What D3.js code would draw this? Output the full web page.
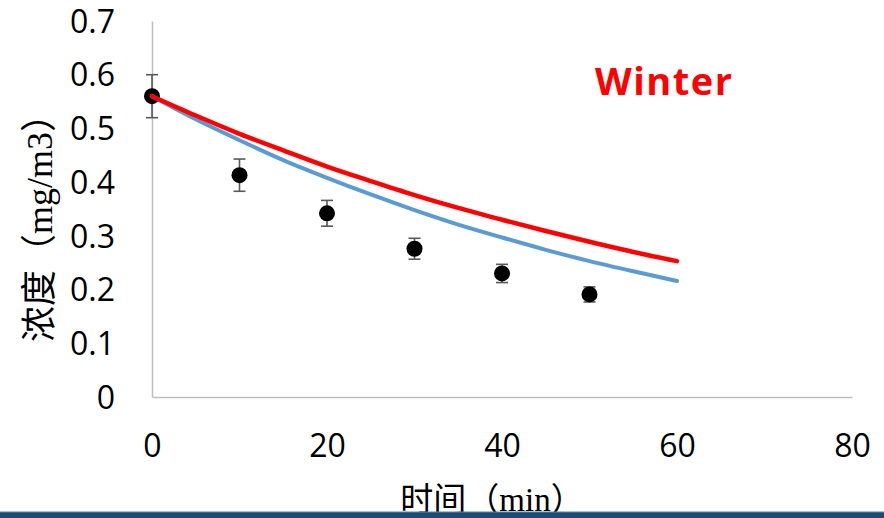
<!DOCTYPE html>
<html>
<head>
<meta charset="utf-8">
<script src="https://cdn.jsdelivr.net/npm/d3@7"></script>
<style>
  html, body { margin: 0; padding: 0; background: #fff; }
  svg { display: block; }
</style>
</head>
<body>
<svg id="chart" width="884" height="518"></svg>
<script>
// Measured concentrations (mean ± error) over time
const sampleTimes = [0, 10, 20, 30, 40, 50];
const sampleMeans = [0.56, 0.413, 0.342, 0.276, 0.230, 0.191];
const sampleErrors = [0.04, 0.03, 0.024, 0.0195, 0.017, 0.014];

// Model curves, sampled every 5 min
const curveTimes = [0, 5, 10, 15, 20, 25, 30, 35, 40, 45, 50, 55, 60];
const winterCurve = [0.560, 0.524, 0.490, 0.459, 0.429, 0.402, 0.376, 0.352, 0.330, 0.309, 0.289, 0.270, 0.253];
const fitCurve = [0.560, 0.517, 0.478, 0.441, 0.408, 0.377, 0.348, 0.321, 0.297, 0.274, 0.253, 0.234, 0.216];

const xTicks = [0, 20, 40, 60, 80];
const yTicks = [0, 0.1, 0.2, 0.3, 0.4, 0.5, 0.6, 0.7];

const svg = d3.select("#chart");

const x = d3.scaleLinear().domain([0, 80]).range([152, 852]);
const y = d3.scaleLinear().domain([0, 0.7]).range([397, 21]);

const tickFont = "'Open Sans', sans-serif";
const cjkFont = "'Liberation Serif', 'Noto Sans CJK SC', serif";

// Axes: plain grey lines, no tick marks
const xAxis = svg.append("g")
  .attr("transform", `translate(0,${y(0)})`)
  .call(d3.axisBottom(x).tickValues(xTicks).tickSize(0).tickPadding(36).tickFormat(d3.format("d")));
xAxis.select(".domain").attr("stroke", "#bfbfbf").attr("stroke-width", 1.5);
xAxis.selectAll("text")
  .attr("font-family", tickFont).attr("font-size", 32).attr("fill", "#000")
  .attr("dy", 0).attr("y", 60);

const yAxis = svg.append("g")
  .attr("transform", `translate(${x(0)},0)`)
  .call(d3.axisLeft(y).tickValues(yTicks).tickSize(0).tickPadding(37)
    .tickFormat(d => d === 0 ? "0" : d3.format(".1f")(d)));
yAxis.select(".domain").attr("stroke", "#bfbfbf").attr("stroke-width", 1.5);
yAxis.selectAll("text")
  .attr("font-family", tickFont).attr("font-size", 32).attr("fill", "#000")
  .attr("dy", "0.35em");

// Error bars
const samples = sampleTimes.map((t, i) => ({ t, v: sampleMeans[i], e: sampleErrors[i] }));
const eb = svg.append("g").attr("stroke", "#595959").attr("stroke-width", 1.6).attr("fill", "none");
samples.forEach(d => {
  const cx = x(d.t);
  eb.append("line").attr("x1", cx).attr("x2", cx).attr("y1", y(d.v + d.e)).attr("y2", y(d.v - d.e));
  eb.append("line").attr("x1", cx - 6).attr("x2", cx + 6).attr("y1", y(d.v + d.e)).attr("y2", y(d.v + d.e));
  eb.append("line").attr("x1", cx - 6).attr("x2", cx + 6).attr("y1", y(d.v - d.e)).attr("y2", y(d.v - d.e));
});

// Sample points
svg.append("g").selectAll("circle").data(samples).join("circle")
  .attr("cx", d => x(d.t)).attr("cy", d => y(d.v)).attr("r", 8).attr("fill", "#000");

// Model curves
const line = d3.line().x(d => x(d[0])).y(d => y(d[1])).curve(d3.curveMonotoneX);
svg.append("path")
  .datum(curveTimes.map((t, i) => [t, fitCurve[i]]))
  .attr("d", line).attr("fill", "none").attr("stroke", "#5B9BD5")
  .attr("stroke-width", 4).attr("stroke-linecap", "round");
svg.append("path")
  .datum(curveTimes.map((t, i) => [t, winterCurve[i]]))
  .attr("d", line).attr("fill", "none").attr("stroke", "#FF0000")
  .attr("stroke-width", 4.5).attr("stroke-linecap", "round");

// Season label
svg.append("text")
  .attr("x", 595).attr("y", 95)
  .attr("font-family", tickFont).attr("font-weight", 700).attr("font-size", 38)
  .attr("fill", "#FF0000").attr("letter-spacing", 1.5)
  .text("Winter");

// Axis titles
svg.append("text")
  .attr("transform", "translate(52,219) rotate(-90)")
  .attr("text-anchor", "middle")
  .attr("font-family", cjkFont).attr("font-size", 36).attr("fill", "#000")
  .text("浓度（mg/m3）");

svg.append("text")
  .attr("x", 492).attr("y", 511)
  .attr("text-anchor", "middle")
  .attr("font-family", cjkFont).attr("font-size", 33).attr("fill", "#000")
  .text("时间（min）");

// Bottom band
svg.append("rect").attr("x", 0).attr("y", 512).attr("width", 884).attr("height", 6).attr("fill", "#184B75");
svg.append("rect").attr("x", 0).attr("y", 511.5).attr("width", 884).attr("height", 1).attr("fill", "#5a84a8");
</script>
</body>
</html>
